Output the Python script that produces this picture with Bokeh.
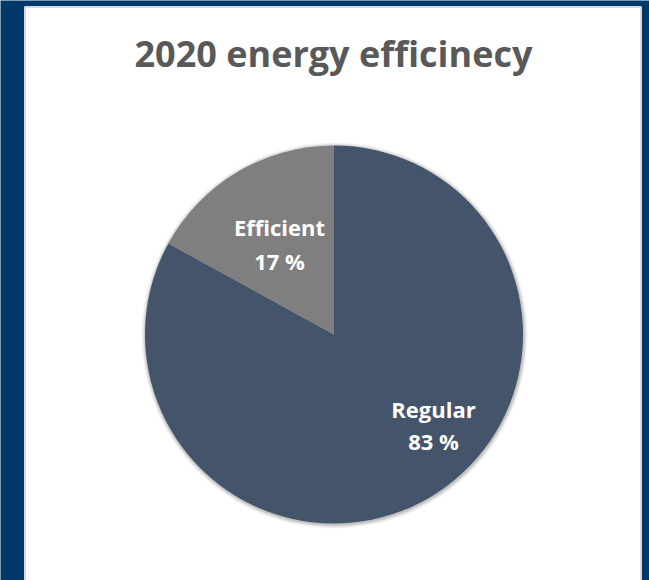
import numpy as np
from bokeh.plotting import figure
from bokeh.models import Range1d
from bokeh.core.properties import value
from bokeh.embed import file_html
from bokeh.resources import INLINE

# data
categories = ["Regular", "Efficient"]
shares = [83, 17]
pct_labels = ["83 %", "17 %"]
slice_colors = ["#44546a", "#7f7f7f"]
title_text = "2020 energy efficinecy"

W, H = 649, 580
p = figure(width=W, height=H, output_backend="svg", toolbar_location=None,
           x_range=Range1d(0, W), y_range=Range1d(0, H), min_border=0,
           background_fill_color="#013a69", border_fill_color="#013a69",
           outline_line_color=None)
p.axis.visible = False
p.grid.visible = False

# white panel
p.quad(left=24.5, right=640.5, top=H - 6.5, bottom=-10, fill_color="white",
       line_color="#d9d9d9", line_width=2)

# pie geometry
cx, cy, R = 333.5, H - 334, 189
fr = np.array(shares, dtype=float) / sum(shares)
# Excel: first slice clockwise from 12 o'clock
ends = np.pi / 2 - 2 * np.pi * np.concatenate([[0], np.cumsum(fr)[:-1]])
starts = ends - 2 * np.pi * fr

# soft shadow
for k, a in [(4, 0.04), (3, 0.05), (2, 0.07), (1, 0.09)]:
    p.circle(x=cx + 0.5, y=cy - 1, radius=R + k, fill_color="#000000",
             fill_alpha=a, line_color=None)

p.wedge(x=[cx] * len(shares), y=[cy] * len(shares), radius=R,
        start_angle=list(starts), end_angle=list(ends),
        fill_color=slice_colors, line_color=None)

# labels (layout positions, screen coords)
label_pos = [(433, 408, 440), (279, 226, 260)]
for (lx, ty1, ty2), name, pl in zip(label_pos, categories, pct_labels):
    p.text(x=[lx], y=[H - ty1], text=[name], text_color="white",
           text_font=value("Open Sans"), text_font_style="bold",
           text_font_size="22px", text_align="center", text_baseline="middle")
    p.text(x=[lx], y=[H - ty2], text=[pl], text_color="white",
           text_font=value("Open Sans"), text_font_style="bold",
           text_font_size="22px", text_align="center", text_baseline="middle")

p.text(x=[333], y=[H - 53], text=[title_text], text_color="#595959",
       text_font=value("Open Sans"), text_font_style="bold",
       text_font_size="36px", text_align="center", text_baseline="middle")

open("out.html", "w").write(file_html(p, INLINE))
